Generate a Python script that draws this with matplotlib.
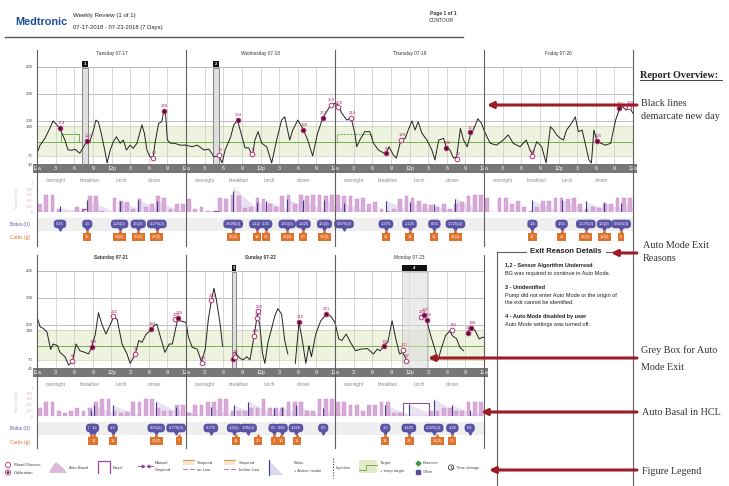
import numpy as np
import matplotlib.pyplot as plt
from matplotlib.patches import Rectangle, Polygon, Circle

plt.rcParams['font.family'] = ['Liberation Sans', 'DejaVu Sans']

W, H = 729, 486
PXH = 149 / 24.0  # pixels per hour on the report

# ---------------- data ----------------
week1_days = ["Tuesday 07-17", "Wednesday 07-18", "Thursday 07-19", "Friday 07-20"]
week2_days = ["Saturday 07-21", "Sunday 07-22", "Monday 07-23"]
week2_bold = [True, True, False]
time_labels = ["12a", "3", "6", "9", "12p", "3", "6", "9"]
meal_labels = ["overnight", "breakfast", "lunch", "dinner"]
meal_hours = [3.0, 8.5, 13.5, 19.0]
glucose_ticks = [40, 70, 180, 200, 300, 400]
basal_ticks = [0, 0.2, 0.4, 0.6, 0.8, 1]
basal_tick_labels = ["0", "0.2", "0.4", "0.6", "0.8", "1"]
nan = float("nan")

# sensor glucose (hour of day, mg/dL)
sg_tue = [(0, 80), (0.5, 110), (1.3, 136), (2.1, 174), (2.6, 200), (3.2, 185), (3.7, 170), (4.5, 129),
          (5.0, 92), (5.6, 91), (6.1, 95), (6.9, 80), (7.5, 104), (8.1, 127), (8.5, 122), (9.1, 166),
          (9.5, 203), (9.9, 195), (10.4, 148), (10.9, 92), (11.3, 44), (11.8, 92), (12.3, 123), (12.8, 141),
          (13.4, 117), (13.9, 129), (14.4, 92), (15.0, 110), (15.5, 98), (16.1, 117), (16.9, 185), (17.3, 154),
          (17.7, 92), (18.2, 67), (18.7, 62), (19.0, 117), (19.6, 191), (20.1, 197), (20.4, 234), (20.7, 228),
          (21.0, 129), (21.5, 117), (22.1, 117), (23.1, 110), (24, 110)]
sg_wed = [(0, 110), (1.0, 104), (1.8, 110), (2.9, 92), (3.7, 95), (4.5, 67), (5.3, 70), (5.8, 44), (6.3, 92),
          (7.2, 141), (7.7, 185), (8.3, 202), (8.8, 160), (9.5, 100), (10.1, 100), (10.7, 70), (11.1, 129),
          (11.6, 160), (12.2, 117), (13.0, 104), (13.8, 44), (14.6, 129), (15.4, 203), (15.9, 215), (16.7, 129),
          (17.2, 166), (18.0, 203), (18.8, 172), (19.6, 129), (20.4, 70), (21.2, 154), (22.0, 209), (22.8, 240),
          (23.3, 259), (24, 265)]
sg_thu = [(0, 265), (0.5, 259), (1.1, 228), (1.9, 203), (2.6, 210), (3.2, 154), (3.5, 104), (4.0, 129),
          (4.8, 160), (5.6, 160), (6.2, 117), (7.0, 92), (8.2, 76), (8.7, 104), (9.4, 73), (9.9, 62), (10.6, 129),
          (11.3, 135), (11.8, 166), (12.4, 200), (12.9, 166), (13.4, 197), (14.0, 154), (14.8, 129), (15.6, 92),
          (16.1, 55), (16.7, 129), (17.5, 135), (17.9, 104), (18.5, 92), (19.1, 62), (19.6, 67), (20.2, 172),
          (20.7, 129), (21.3, 104), (21.8, 148), (22.4, 172), (23.0, 208), (23.6, 191), (24, 166)]
sg_fri = [(0, 166), (0.5, 140), (1.0, 117), (2.0, 110), (3.1, 129), (3.9, 148), (4.7, 117), (5.8, 104),
          (6.8, 129), (7.4, 92), (7.8, 75), (8.5, 123), (9.3, 104), (10.0, 44), (10.7, 178), (11.2, 166),
          (11.7, 148), (12.3, 135), (12.8, 129), (13.3, 166), (14.1, 191), (14.7, 215), (15.2, 160), (15.8, 166),
          (16.3, 117), (16.9, 55), (17.3, 44), (17.7, 166), (18.2, 125), (18.8, 117), (19.6, 110), (20.4, 117),
          (21.2, 203), (21.8, 243), (22.3, 253), (22.9, 240), (23.4, 250), (24, 228)]
sg_sat = [(0, 230), (0.5, 193), (1.0, 187), (1.6, 174), (2.2, 109), (2.6, 129), (3.3, 123), (3.7, 98),
          (4.5, 82), (5.1, 51), (5.7, 63), (6.3, 129), (6.9, 104), (7.7, 98), (8.3, 92), (8.8, 117), (9.4, 166),
          (9.9, 245), (10.4, 206), (11.1, 166), (11.7, 196), (12.3, 227), (12.9, 221), (13.7, 129), (14.5, 92),
          (15.0, 57), (15.8, 90), (16.4, 142), (16.9, 135), (17.6, 166), (18.3, 180), (18.8, 196), (19.3, 203),
          (19.9, 154), (20.6, 98), (21.3, 129), (21.8, 129), (22.6, 215), (23.1, 215), (24, 209)]
sg_sun = [(0, 209), (0.4, 154), (1.0, 117), (1.8, 110), (2.5, 63), (3.1, 110), (3.6, 221), (4.1, 292),
          (4.5, 336), (4.9, 292), (5.5, 203), (5.9, 120), (6.5, nan), (7.9, 98), (8.7, 76), (9.2, 70), (9.8, 82),
          (10.3, 70), (11.0, 162), (11.5, 240), (11.9, 196), (12.3, 98), (12.7, 57), (13.2, 135), (13.7, 178),
          (14.3, 233), (14.8, 260), (15.4, 240), (15.9, 142), (16.4, 92), (17.0, nan), (17.6, 57), (18.2, 209),
          (18.7, 148), (19.3, 57), (19.8, 123), (20.2, 82), (20.9, 166), (21.7, 215), (22.5, 237), (23.3, 233),
          (24, 209)]
sg_mon = [(0, 209), (0.6, 148), (1.1, 142), (1.8, 166), (2.5, 135), (3.3, 104), (4.1, 110), (5.2, 112),
          (6.2, 92), (6.8, 110), (7.3, 104), (7.9, 126), (8.5, 135), (9.2, 215), (9.8, 148), (10.4, 92),
          (10.9, 98), (11.2, 85), (11.6, 66), (13.0, nan), (14.8, 218), (15.0, 196), (15.5, 154), (16.0, 117),
          (16.6, 70), (17.1, 110), (17.8, 160), (18.5, 178), (18.9, 160), (19.6, 148), (20.1, 117), (20.7, 104),
          (21.0, nan), (21.4, 176), (21.9, 190), (22.6, 178), (23.2, 148), (23.8, 154), (24, 154)]

# meter readings (hour, mg/dL, 1 = calibration)
bg_tue = [(3.7, 174, 1), (8.1, 127, 1), (18.7, 62, 0), (20.4, 236, 1)]
bg_wed = [(5.3, 74, 0), (8.3, 204, 1), (10.7, 76, 0), (18.8, 168, 1), (22.0, 212, 1), (23.3, 259, 0)]
bg_thu = [(0.5, 250, 0), (2.6, 210, 0), (8.2, 80, 1), (10.6, 129, 0), (17.9, 100, 1), (19.6, 60, 0), (21.8, 157, 1)]
bg_fri = [(7.8, 68, 0), (18.2, 125, 1), (21.8, 247, 1), (23.4, 250, 0)]
bg_sat = [(5.7, 66, 0), (8.8, 118, 1), (12.3, 232, 0), (15.8, 92, 0), (18.3, 184, 1), (22.3, 220, 0), (22.7, 226, 1)]
bg_sun = [(2.5, 60, 0), (4.1, 291, 0), (7.5, 75, 1), (7.9, 82, 0), (11.0, 160, 0), (11.4, 224, 0), (11.6, 250, 0),
          (18.2, 210, 1), (22.5, 241, 1)]
bg_mon = [(7.9, 120, 1), (10.9, 107, 0), (11.5, 67, 0), (13.9, 229, 0), (14.4, 237, 1), (14.8, 218, 1),
          (18.9, 182, 0), (21.4, 170, 1), (21.9, 188, 1)]

# auto basal, hourly (U/h)
basal_tue = [0.3, 0.6, 0.6, 0.1, 0, 0, 0.2, 0.1, 0.55, 0.55, 0.05, 0, 0.5, 0.4, 0.35, 0.1, 0.45, 0.2, 0.3, 0.55,
             0.5, 0.1, 0.3, 0.3]
basal_wed = [0.45, 0.1, 0.2, 0.05, 0.05, 0.5, 0.45, 0.6, 0.55, 0.15, 0.2, 0.5, 0.45, 0.3, 0.2, 0.55, 0.6, 0.3,
             0.6, 0.55, 0.6, 0.6, 0.55, 0.6]
basal_thu = [0.6, 0.55, 0.55, 0.45, 0.5, 0.3, 0.35, 0.1, 0.05, 0.1, 0.45, 0.55, 0.5, 0.4, 0.3, 0.25, 0.2, 0.3,
             0.1, 0.3, 0.35, 0.55, 0.6, 0.6]
basal_fri = [0.5, 0.0, 0.5, 0.5, 0.3, 0.4, 0.2, 0.05, 0.2, 0.4, 0.4, 0.5, 0.5, 0.45, 0.5, 0.3, 0.1, 0.2, 0.15,
             0.3, 0.3, 0.5, 0.5, 0.5]
basal_sat = [0.3, 0.5, 0.5, 0.2, 0.1, 0.2, 0.3, 0.2, 0.3, 0.5, 0.6, 0.6, 0.2, 0.1, 0.15, 0.5, 0.5, 0.6, 0.6, 0.3,
             0.2, 0.2, 0.4, 0.4]
basal_sun = [0.1, 0.4, 0.4, 0.5, 0.5, 0.6, 0.6, 0.2, 0.2, 0.2, 0.3, 0.3, 0.6, 0.3, 0.3, 0.3, 0.5, 0.5, 0.5, 0.2,
             0.2, 0.6, 0.6, 0.6]
basal_mon = [0.5, 0.5, 0.4, 0.4, 0.2, 0.4, 0.4, 0.5, 0.5, 0.1, 0.1, 0, 0, 0, 0, 0.2, 0.2, 0.3, 0.3, 0.2, 0.2, 0.5,
             0.5, 0.5]

# (day index, hour, label)
bolus_week1 = [(0, 3.7, "0.15"), (0, 8.1, "1.5"), (0, 13.3, "1.25(2)"), (0, 16.3, "1.5(2)"), (0, 19.3, "1.275(2)"),
               (1, 7.6, "3.600(2)"), (1, 11.4, "1.1(2)"), (1, 12.9, "1.35"), (1, 16.3, "1.65(2)"),
               (1, 18.9, "1.425"), (1, 22.3, "1.5(3)"), (2, 1.45, "0.875(2)"), (2, 8.2, "1.375"),
               (2, 12.0, "1.125"), (2, 16.0, "0.55"), (2, 19.4, "1.725(2)"), (3, 7.8, "1.4"), (3, 12.5, "1.55"),
               (3, 16.4, "1.175(2)"), (3, 19.4, "1.0(2)"), (3, 22.1, "0.825(3)")]
carbs_week1 = [(0, 8.1, "15"), (0, 13.3, "20(2)"), (0, 16.3, "20(2)"), (0, 19.3, "20(2)"), (1, 7.6, "33(2)"),
               (1, 11.4, "18"), (1, 12.9, "20"), (1, 16.3, "30(2)"), (1, 18.9, "20"), (1, 22.3, "17(2)"),
               (2, 8.2, "15"), (2, 12.0, "18"), (2, 16.0, "10"), (2, 19.4, "28(2)"), (3, 7.8, "15"),
               (3, 12.5, "25"), (3, 16.4, "18(2)"), (3, 19.4, "18(2)"), (3, 22.1, "5")]
bolus_week2 = [(0, 8.7, "0.1"), (0, 9.2, "1.2"), (0, 12.2, "1.3"), (0, 19.2, "2.05(2)"), (0, 22.4, "0.775(3)"),
               (1, 4.0, "0.775"), (1, 7.8, "1.2(2)"), (1, 10.0, "1.95(3)"), (1, 14.1, "0.5"), (1, 15.4, "0.85"),
               (1, 17.7, "1.225"), (1, 22.1, "0.5"), (2, 8.1, "1.3"), (2, 11.9, "1.425"), (2, 15.9, "2.325(3)"),
               (2, 18.9, "1.25"), (2, 21.7, "0.1")]
carbs_week2 = [(0, 8.7, "1"), (0, 9.2, "12"), (0, 12.2, "15"), (0, 19.2, "30(2)"), (0, 22.8, "7"),
               (1, 8.0, "14"), (1, 11.6, "20"), (1, 14.1, "1"), (1, 15.3, "10"), (1, 17.9, "15"),
               (2, 8.1, "13"), (2, 12.0, "23"), (2, 16.5, "35(3)"), (2, 18.9, "20")]

# temp targets (day, start h, end h, mg/dL, dashed)
temp_week1 = [(0, 3.8, 6.8, 150, False), (2, 0.3, 5.9, 150, True)]
temp_week2 = []
target_value = 120
# manual basal (day, start h, end h, U/h)
manual_week1 = [(0, 7.2, 8.1, 0.12), (1, 4.5, 5.2, 0.06)]
manual_week2 = [(2, 10.9, 15.2, 0.45)]
# auto mode exits (day, start h, end h, label)
exits_week1 = [(0, 7.25, 8.2, "1"), (1, 4.3, 5.3, "2")]
exits_week2 = [(1, 7.4, 8.0, "3"), (2, 10.8, 14.8, "4")]

exit_details = [("1,2 - Sensor Algorithm Underread", True), ("BG was required to continue in Auto Mode.", False),
                ("3 - Unidentified", True), ("Pump did not enter Auto Mode or the origin of", False),
                ("the exit cannot be identified.", False), ("4 - Auto Mode disabled by user", True),
                ("Auto Mode settings was turned off.", False)]
exit_detail_y = [265, 273, 287, 295, 302, 316, 324]

# ---------------- drawing ----------------
fig = plt.figure(figsize=(W / 100, H / 100), dpi=100)

MAGENTA = '#b8307a'
GREEN = '#7aae4f'
NAVY = '#3b3d8f'
BOLUS_C = '#5b53a5'
CARB_C = '#e0732c'


def px_axes(x0, y0, x1, y1):
    ax = fig.add_axes([x0 / W, 1 - y1 / H, (x1 - x0) / W, (y1 - y0) / H])
    for s in ax.spines.values():
        s.set_visible(False)
    ax.set_xticks([])
    ax.set_yticks([])
    return ax


def draw_week(top, names, bold, sg_days, bg_days, basal_days, boluses, carbs, temps, manual, exits):
    n = len(names)
    span = n * 24
    x1 = 37 + n * 149

    # glucose panel
    ax = px_axes(37, top, x1, top + 107)
    ax.patch.set_visible(False)
    ax.set_xlim(0, span)
    ax.set_ylim(40, 437)
    ax.axhspan(70, 180, color='#eef3df', lw=0, zorder=0)
    for g in (200, 300, 400):
        ax.axhline(g, color='#a3a3a3', lw=0.5, zorder=1)
    for g in (70, 180):
        ax.axhline(g, color='#c6d3ab', lw=0.5, zorder=1)
    grid = [t for t in range(3, span, 3) if t % 24]
    ax.vlines(grid, 40, 400, color='#c8c8c8', lw=0.5, zorder=1)
    ax.axhline(target_value, color=GREEN, lw=0.7, zorder=2)
    for d, s, e, v, dashed in temps:
        ax.plot([d * 24 + s, d * 24 + s, d * 24 + e, d * 24 + e], [target_value, v, v, target_value],
                color=GREEN, lw=0.7, ls=(0, (2, 1)) if dashed else '-', zorder=2)

    for d, s, e, lab in exits:
        xs, xe = d * 24 + s, d * 24 + e
        wide = (e - s) > 2
        ax.add_patch(Rectangle((xs, 40), xe - xs, 358, fc='#dcdcdc', alpha=0.55 if wide else 0.9,
                               ec='#9a9a9a' if wide else '#6a6a6a', lw=0.6, zorder=2))
        ax.add_patch(Rectangle((xs, 400), xe - xs, 24, fc='#111111', ec='none', zorder=5, clip_on=False))
        ax.text((xs + xe) / 2, 412, lab, color='white', fontsize=3, weight='bold',
                ha='center', va='center', zorder=6)

    for d, day in enumerate(sg_days):
        hx = np.array([p[0] for p in day]) + d * 24
        gy = np.array([p[1] for p in day], dtype=float)
        ax.plot(hx, gy, color='#222222', lw=0.7, zorder=3)
    for d, day in enumerate(bg_days):
        for h, v, cal in day:
            x = d * 24 + h
            ax.scatter([x], [v], s=11, facecolor='#5a0f2e' if cal else 'white', edgecolor=MAGENTA,
                       lw=0.7, zorder=4)
            ax.text(x + 0.2, v + 10, str(v), color=MAGENTA, fontsize=3.2, ha='center', va='bottom', zorder=4)

    ax.set_yticks(glucose_ticks)
    ax.set_yticklabels([str(t) for t in glucose_ticks])
    ax.tick_params(axis='y', length=0, pad=3, labelsize=3.2, labelcolor='#555555')

    for d, name in enumerate(names):
        ax.text(d * 24 + 12, 1.005, name, transform=ax.get_xaxis_transform(), fontsize=3.4,
                weight='bold' if bold[d] else 'normal', color='#333333', ha='center', va='bottom')

    # grey time band
    pad = 4 / PXH
    ab = px_axes(33, top + 107, x1 + 4, top + 116)
    ab.set_facecolor('#777777')
    ab.set_xlim(-pad, span + pad)
    for d in range(n):
        for i, lab in enumerate(time_labels):
            ab.text(d * 24 + 3 * i, 0.5, lab, transform=ab.get_xaxis_transform(), color='white',
                    fontsize=3.8, ha='center', va='center')
        for mh, ml in zip(meal_hours, meal_labels):
            ab.text(d * 24 + mh, -0.8, ml, transform=ab.get_xaxis_transform(), color='#8a8a8a',
                    fontsize=3.4, ha='center', va='center')
    ab.text(span, 0.5, "12a", transform=ab.get_xaxis_transform(), color='white', fontsize=3.8,
            ha='center', va='center', clip_on=True)

    # basal panel
    abs_ = px_axes(37, top + 126.3, x1, top + 155.3)
    abs_.patch.set_visible(False)
    abs_.set_xlim(0, span)
    abs_.set_ylim(0, 1)
    for d, h, lab in boluses:
        amt = float(lab.split('(')[0])
        x = d * 24 + h
        peak = min(0.1 + 0.22 * amt, 0.95)
        abs_.add_patch(Polygon([(x, 0), (x, peak), (x + 4.5, 0)], closed=True, fc='#e9e3f1', ec='none', zorder=1))
    for d, vals in enumerate(basal_days):
        abs_.bar(d * 24 + np.arange(24) + 0.5, vals, width=0.6, color='#d8aad8', edgecolor='#c78fc8',
                 lw=0.3, zorder=2)
    for d, h, lab in boluses:
        amt = float(lab.split('(')[0])
        abs_.vlines(d * 24 + h, 0, min(0.2 + 0.15 * amt, 0.75), color=NAVY, lw=0.8, zorder=3)
    for d, s, e, v in manual:
        abs_.plot([d * 24 + s, d * 24 + s, d * 24 + e, d * 24 + e], [0, v, v, 0], color='#9b4a9e',
                  lw=0.8, zorder=3)
    abs_.set_yticks(basal_ticks)
    abs_.set_yticklabels(basal_tick_labels)
    abs_.tick_params(axis='y', length=0, pad=3, labelsize=3, labelcolor='#d2b0d0')
    abs_.set_ylabel("Basal (U/h)", fontsize=3, color='#d8bcd6', labelpad=6)

    # bolus / carbs rows
    abo = px_axes(37, top + 154, x1, top + 193)
    abo.patch.set_visible(False)
    abo.set_xlim(0, span)
    abo.set_ylim(-1, 2)
    abo.axhspan(0.45, 1.45, color='#efefef', lw=0, zorder=0)
    for d, h, lab in boluses:
        x = d * 24 + h
        abo.plot([x], [0.62], marker='v', ms=2.5, color=BOLUS_C, zorder=2)
        abo.text(x, 1, lab, fontsize=3, color='white', ha='center', va='center', zorder=3,
                 bbox=dict(boxstyle='round,pad=0.55,rounding_size=0.9', fc=BOLUS_C, ec='none'))
    for d, h, lab in carbs:
        x = d * 24 + h
        abo.plot([x], [0.42], marker='^', ms=2.5, color=CARB_C, zorder=2)
        abo.text(x, 0, lab, fontsize=3, color='white', ha='center', va='center', zorder=3,
                 bbox=dict(boxstyle='square,pad=0.45', fc=CARB_C, ec='none'))


draw_week(57, week1_days, [False] * 4, [sg_tue, sg_wed, sg_thu, sg_fri], [bg_tue, bg_wed, bg_thu, bg_fri],
          [basal_tue, basal_wed, basal_thu, basal_fri], bolus_week1, carbs_week1, temp_week1,
          manual_week1, exits_week1)
draw_week(261, week2_days, week2_bold, [sg_sat, sg_sun, sg_mon], [bg_sat, bg_sun, bg_mon],
          [basal_sat, basal_sun, basal_mon], bolus_week2, carbs_week2, temp_week2,
          manual_week2, exits_week2)

# ---------------- overlay: frames, header, notes ----------------
ov = fig.add_axes([0, 0, 1, 1])
ov.set_xlim(0, W)
ov.set_ylim(H, 0)
ov.axis('off')
ov.patch.set_visible(False)

LINE = '#5f5f5f'
ov.plot([5, 463], [37, 37], color='#555555', lw=1.0)
for x in (37, 186, 335, 484):
    ov.plot([x, x], [50, 246], color=LINE, lw=0.8)
for x in (37, 186, 335, 484):
    ov.plot([x, x], [255, 448], color=LINE, lw=0.8)
ov.plot([633, 633], [50, 486], color=LINE, lw=0.8)
ov.plot([497, 497], [252, 486], color=LINE, lw=0.8)
ov.plot([497, 526], [252, 252], color=LINE, lw=0.8)
ov.plot([606, 633], [252, 252], color=LINE, lw=0.8)

ov.text(15, 22, "Medtronic", fontsize=7.8, weight='bold', color='#1c4f91', ha='left', va='center')
ov.text(73, 15, "Weekly Review (1 of 1)", fontsize=4.4, color='#222222', ha='left', va='center')
ov.text(73, 28, "07-17-2018 - 07-23-2018 (7 Days)", fontsize=4.2, color='#222222', ha='left', va='center')
ov.text(443, 13, "Page 1 of 1", fontsize=3.6, color='#333333', ha='center', va='center', weight='bold')
ov.text(441, 20, "CONTOUR", fontsize=3.6, color='#333333', ha='center', va='center')

ov.text(20, 224, "Bolus (U)", fontsize=3.4, color=BOLUS_C, ha='center', va='center')
ov.text(20, 237, "Carbs (g)", fontsize=3.4, color=CARB_C, ha='center', va='center')
ov.text(20, 428, "Bolus (U)", fontsize=3.4, color=BOLUS_C, ha='center', va='center')
ov.text(20, 442, "Carbs (g)", fontsize=3.4, color=CARB_C, ha='center', va='center')

# exit reason box
ov.text(566, 251, "Exit Reason Details", fontsize=5.6, weight='bold', color='#222222', ha='center', va='center')
for (txt, b), y in zip(exit_details, exit_detail_y):
    ov.text(505, y, txt, fontsize=4.0, weight='bold' if b else 'normal', color='#222222', ha='left', va='center')

# right-hand notes
SERIF = ['Liberation Serif', 'DejaVu Serif']
ov.text(640, 75, "Report Overview:", fontsize=7.3, weight='bold', family=SERIF, color='#222222',
        ha='left', va='center')
ov.plot([640, 722], [80.5, 80.5], color='#222222', lw=0.6)
notes = [("Black lines", 641, 103), ("demarcate new day", 641, 116), ("Auto Mode Exit", 643, 245),
         ("Reasons", 643, 258), ("Grey Box for Auto", 641, 350), ("Mode Exit", 641, 367),
         ("Auto Basal in HCL", 642, 412), ("Figure Legend", 642, 471)]
for txt, x, y in notes:
    ov.text(x, y, txt, fontsize=7.3, family=SERIF, color='#333333', ha='left', va='center')
for x0, y0, x1_, y1 in [(637, 105, 487, 105), (637, 253, 611, 253), (637, 358, 428, 358),
                        (637, 412, 481, 412), (637, 470, 489, 470)]:
    ov.annotate('', xy=(x1_, y1), xytext=(x0, y0),
                arrowprops=dict(arrowstyle='-|>', color='#9e1c26', lw=2.2, mutation_scale=9,
                                shrinkA=0, shrinkB=0))

# legend strip
LG = '#444444'
ov.add_patch(Circle((8, 465), 2.6, fc='white', ec=MAGENTA, lw=0.6))
ov.add_patch(Circle((8, 472.5), 2.6, fc='white', ec=MAGENTA, lw=0.6))
ov.add_patch(Circle((8, 472.5), 1.3, fc='#5a0f2e', ec='none'))
ov.text(14, 465, "Blood Glucose", fontsize=3, color=LG, va='center')
ov.text(14, 472.5, "Calibration", fontsize=3, color=LG, va='center')
ov.add_patch(Polygon([(49, 473), (52, 467), (56, 462), (60, 465), (64, 469), (67, 473)], closed=True,
                     fc='#dcbadc', ec='none'))
ov.text(69, 468, "Auto-Basal", fontsize=3, color=LG, va='center')
ov.plot([98, 98, 110, 110], [473, 461, 461, 473], color='#9b4a9e', lw=0.9)
ov.text(113, 468, "Basal", fontsize=3, color=LG, va='center')
ov.plot([138, 143], [466, 466], color='#8a4a9a', lw=0.6)
ov.plot([143], [466], marker='>', ms=1.8, color='#8a4a9a')
ov.plot([148, 153], [466, 466], color='#8a4a9a', lw=0.6)
ov.plot([148], [466], marker='<', ms=1.8, color='#8a4a9a')
ov.text(155, 463, "Manual", fontsize=3, color=LG, va='center')
ov.text(155, 470, "Suspend", fontsize=3, color=LG, va='center')
for x in (183, 224):
    ov.add_patch(Rectangle((x, 460), 11, 5, fc='#f4e6cc', ec='none'))
    ov.plot([x, x + 11], [460, 460], color='#d89a4a', lw=0.8)
    ov.plot([x, x + 4], [469, 469], color='#8a4a9a', lw=0.5)
    ov.plot([x + 7, x + 11], [469, 469], color='#8a4a9a', lw=0.5)
ov.text(197, 463, "Suspend", fontsize=3, color=LG, va='center')
ov.text(197, 470, "on Low", fontsize=3, color=LG, va='center')
ov.text(239, 463, "Suspend", fontsize=3, color=LG, va='center')
ov.text(239, 470, "before Low", fontsize=3, color=LG, va='center')
ov.add_patch(Polygon([(269, 460), (269, 475), (283, 475)], closed=True, fc='#d8d8ee', ec='none'))
ov.plot([269, 269], [460, 475], color=NAVY, lw=0.8)
ov.text(294, 463, "Bolus", fontsize=3, color=LG, va='center')
ov.text(294, 471, "+ Active insulin", fontsize=3, color=LG, va='center')
ov.plot([333, 333], [458, 478], color='#333333', lw=0.8, ls=(0, (1, 1.5)))
ov.text(336, 468, "Injection", fontsize=3, color=LG, va='center')
ov.add_patch(Rectangle((359, 460), 18, 13, fc='#e3ecc8', ec='none'))
ov.plot([359, 366, 366, 377], [470, 470, 465, 465], color=GREEN, lw=0.7)
ov.text(380, 463, "Target", fontsize=3, color=LG, va='center')
ov.text(380, 471, "+ temp target", fontsize=3, color=LG, va='center')
ov.plot([418], [463], marker='P', ms=3, color='#3f9a3f')
ov.plot([418], [472], marker='s', ms=2.6, color='#5a4aa0')
ov.text(423, 463, "Exercise", fontsize=3, color=LG, va='center')
ov.text(423, 472, "Other", fontsize=3, color=LG, va='center')
ov.add_patch(Circle((451, 467.5), 2.6, fc='white', ec='#333333', lw=0.6))
ov.plot([451, 451, 452.5], [465.5, 467.5, 467.5], color='#333333', lw=0.5)
ov.text(456, 468, "Time change", fontsize=3, color=LG, va='center')

fig.savefig("out.png", dpi=100)
